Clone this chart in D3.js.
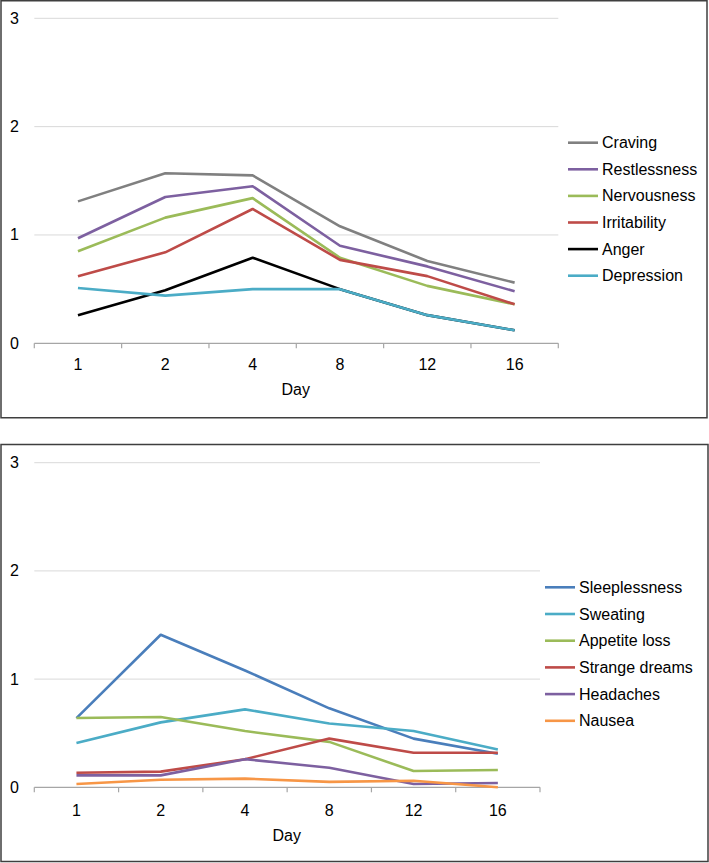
<!DOCTYPE html>
<html>
<head>
<meta charset="utf-8">
<script src="https://cdn.jsdelivr.net/npm/d3@7"></script>
<style>
  html, body { margin: 0; padding: 0; background: #fff; }
  svg { display: block; font-family: "Liberation Sans", Arial, sans-serif; }
</style>
</head>
<body>
<svg id="chart" width="709" height="863"></svg>
<script>
// ---------- data ----------
const days = ["1", "2", "4", "8", "12", "16"];
const yTicks = [0, 1, 2, 3];
const xTitle = "Day";

// Panel 1
const topNames = ["Craving", "Restlessness", "Nervousness", "Irritability", "Anger", "Depression"];
const craving      = [1.31, 1.57, 1.55, 1.08, 0.76, 0.56];
const restlessness = [0.97, 1.35, 1.45, 0.90, 0.71, 0.48];
const nervousness  = [0.85, 1.16, 1.34, 0.79, 0.53, 0.36];
const irritability = [0.62, 0.84, 1.24, 0.77, 0.62, 0.36];
const anger        = [0.26, 0.49, 0.79, 0.50, 0.26, 0.12];
const depression   = [0.51, 0.44, 0.50, 0.50, 0.26, 0.12];
const topColors = ["#808080", "#7D60A0", "#9BBB59", "#BE4B48", "#000000", "#4BACC6"];

// Panel 2
const bottomNames = ["Sleeplessness", "Sweating", "Appetite loss", "Strange dreams", "Headaches", "Nausea"];
const sleeplessness = [0.64, 1.41, 1.08, 0.73, 0.45, 0.31];
const sweating      = [0.41, 0.60, 0.72, 0.59, 0.52, 0.35];
const appetiteLoss  = [0.64, 0.65, 0.52, 0.42, 0.15, 0.16];
const strangeDreams = [0.135, 0.145, 0.26, 0.45, 0.32, 0.32];
const headaches     = [0.11, 0.11, 0.26, 0.18, 0.03, 0.04];
const nausea        = [0.03, 0.07, 0.08, 0.05, 0.06, 0.00];
const bottomColors = ["#4A7EBB", "#4BACC6", "#9BBB59", "#BE4B48", "#7D60A0", "#F79646"];

// ---------- drawing ----------
const svg = d3.select("#chart");

function drawPanel(opt) {
  const g = svg.append("g");
  // frame
  g.append("rect")
    .attr("x", opt.frame[0]).attr("y", opt.frame[1])
    .attr("width", opt.frame[2]).attr("height", opt.frame[3])
    .attr("fill", "#fff").attr("stroke", "#3f3f3f").attr("stroke-width", 1.5);

  const x = d3.scaleBand().domain(days).range([opt.left, opt.right]);
  const y = d3.scaleLinear().domain([0, 3]).range([opt.bottom, opt.top]);

  // gridlines
  g.append("g").selectAll("line").data(yTicks.filter(d => d > 0)).join("line")
    .attr("x1", opt.left).attr("x2", opt.right)
    .attr("y1", d => y(d)).attr("y2", d => y(d))
    .attr("stroke", "#d9d9d9").attr("stroke-width", 1);

  // y labels
  g.append("g").selectAll("text").data(yTicks).join("text")
    .attr("x", 19).attr("y", d => y(d))
    .attr("text-anchor", "end").attr("dominant-baseline", "central")
    .attr("font-size", 16).attr("fill", "#000")
    .text(d => d);

  // x axis
  const xAxis = d3.axisBottom(x).tickSize(0).tickPadding(0);
  const ax = g.append("g").attr("transform", `translate(0,${opt.bottom})`).call(xAxis);
  ax.select(".domain").remove();
  ax.selectAll(".tick text").remove();
  g.append("line")
    .attr("x1", opt.left).attr("x2", opt.right)
    .attr("y1", opt.bottom).attr("y2", opt.bottom)
    .attr("stroke", "#a6a6a6").attr("stroke-width", 1.2);
  const bounds = days.map(d => x(d)).concat([opt.right]);
  g.append("g").selectAll("line").data(bounds).join("line")
    .attr("x1", d => d).attr("x2", d => d)
    .attr("y1", opt.bottom).attr("y2", opt.bottom + 5)
    .attr("stroke", "#a6a6a6").attr("stroke-width", 1.2);
  g.append("g").selectAll("text").data(days).join("text")
    .attr("x", d => x(d) + x.bandwidth() / 2)
    .attr("y", opt.bottom + opt.tickLabelDy)
    .attr("text-anchor", "middle").attr("dominant-baseline", "central")
    .attr("font-size", 16).attr("fill", "#000")
    .text(d => d);
  g.append("text")
    .attr("x", opt.titleX).attr("y", opt.bottom + opt.titleDy)
    .attr("text-anchor", "middle").attr("dominant-baseline", "central")
    .attr("font-size", 16).attr("fill", "#000")
    .text(xTitle);

  // lines
  const line = d3.line()
    .x((d, i) => x(days[i]) + x.bandwidth() / 2)
    .y(d => y(d));
  opt.series.forEach((s, i) => {
    g.append("path").datum(s)
      .attr("d", line)
      .attr("fill", "none")
      .attr("stroke", opt.colors[i])
      .attr("stroke-width", 2.6)
      .attr("stroke-linejoin", "round");
  });

  // legend
  const lg = g.append("g");
  opt.names.forEach((n, i) => {
    const ly = opt.legendY + i * opt.legendStep;
    lg.append("line")
      .attr("x1", opt.legendX).attr("x2", opt.legendX + 30)
      .attr("y1", ly).attr("y2", ly)
      .attr("stroke", opt.colors[i]).attr("stroke-width", 2.6);
    lg.append("text")
      .attr("x", opt.legendX + 34).attr("y", ly)
      .attr("dominant-baseline", "central")
      .attr("font-size", 16).attr("fill", "#000")
      .text(n);
  });
}

drawPanel({
  frame: [1, 0.75, 706, 417],
  left: 34.3, right: 558.3, top: 18.3, bottom: 343.3,
  tickLabelDy: 21, titleX: 295.7, titleDy: 45.7,
  series: [craving, restlessness, nervousness, irritability, anger, depression],
  names: topNames, colors: topColors,
  legendX: 568, legendY: 142.7, legendStep: 26.6
});

drawPanel({
  frame: [1, 444.5, 707, 417],
  left: 34.3, right: 540, top: 462.7, bottom: 787.3,
  tickLabelDy: 22.7, titleX: 286.7, titleDy: 48.4,
  series: [sleeplessness, sweating, appetiteLoss, strangeDreams, headaches, nausea],
  names: bottomNames, colors: bottomColors,
  legendX: 545, legendY: 587.3, legendStep: 26.7
});
</script>
</body>
</html>
